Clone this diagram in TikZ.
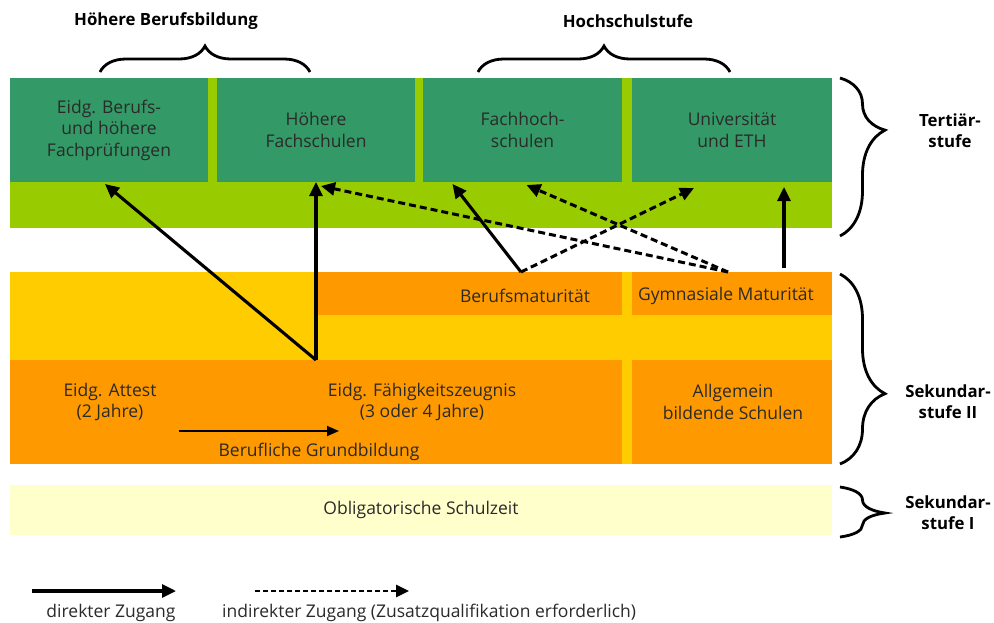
\documentclass[tikz,border=0pt]{standalone}
\usepackage{fontspec}
\setmainfont{Open Sans}
\usetikzlibrary{arrows.meta,decorations.pathreplacing,calc}
\definecolor{dgreen}{HTML}{339966}
\definecolor{lime}{HTML}{99CC00}
\definecolor{ylw}{HTML}{FFCC00}
\definecolor{orng}{HTML}{FF9900}
\definecolor{pale}{HTML}{FFFFCC}
\definecolor{txt}{HTML}{2A2A2A}
\begin{document}
\begin{tikzpicture}[x=1pt,y=-1pt,
  area/.style={rectangle, inner sep=0pt, outer sep=0pt, anchor=north west, draw=none},
  lbl/.style={text=txt, align=center, inner sep=0pt, font=\fontsize{17.5}{21.5}\selectfont},
  hdr/.style={text=black, align=center, inner sep=0pt, font=\bfseries\fontsize{16.8}{21}\selectfont},
  direct/.style={line width=3.1pt, -{Triangle[length=14pt,width=13pt]}},
  indirect/.style={line width=3pt, dash pattern=on 7pt off 4pt, -{Triangle[length=14pt,width=13pt]}},
  brc/.style={decorate, line width=2.8pt}]
\useasboundingbox (0,0) rectangle (994,622);
\fill[white] (0,0) rectangle (994,622);

% Tertiary
\node[area, fill=lime, minimum width=822pt, minimum height=150pt] (tband) at (10,78) {};
\node[area, fill=dgreen, minimum width=198pt, minimum height=104pt] (b1) at (10,78) {};
\node[area, fill=dgreen, minimum width=198pt, minimum height=104pt] (b2) at (217,78) {};
\node[area, fill=dgreen, minimum width=199pt, minimum height=104pt] (b3) at (423,78) {};
\node[area, fill=dgreen, minimum width=200pt, minimum height=104pt] (b4) at (632,78) {};
\node[lbl] (t1) at (b1.center) {Eidg. Berufs-\\und höhere\\Fachprüfungen};
\node[lbl] (t2) at (b2.center) {Höhere\\Fachschulen};
\node[lbl] (t3) at (b3.center) {Fachhoch-\\schulen};
\node[lbl] (t4) at (b4.center) {Universität\\und ETH};

% Secondary II
\node[area, fill=ylw, minimum width=822pt, minimum height=192pt] (sek2) at (10,272) {};
\node[area, fill=orng, minimum width=304pt, minimum height=43pt] (bm) at (318,272) {};
\node[area, fill=orng, minimum width=200pt, minimum height=43pt] (gm) at (632,272) {};
\node[area, fill=orng, minimum width=612pt, minimum height=104pt] (efz) at (10,360) {};
\node[area, fill=orng, minimum width=200pt, minimum height=104pt] (abs) at (632,360) {};
\node[lbl] (tbm) at (525,296) {Berufsmaturität};
\node[lbl] (tgm) at (726,296) {Gymnasiale Maturität};
\node[lbl] (tat) at (110,402) {Eidg. Attest\\(2 Jahre)};
\node[lbl] (tefz) at (422,402) {Eidg. Fähigkeitszeugnis\\(3 oder 4 Jahre)};
\node[lbl] (tabs) at (733,402) {Allgemein\\bildende Schulen};
\node[lbl] (tbg) at (319,452) {Berufliche Grundbildung};
\coordinate (gbs) at (179,431);
\coordinate (gbe) at (339,431);
\draw[line width=1.8pt, -{Triangle[length=12pt,width=10pt]}] (gbs) -- (gbe);

% Secondary I
\node[area, fill=pale, minimum width=822pt, minimum height=50pt] (obl) at (10,485) {};
\node[lbl] (tobl) at (obl.center) {Obligatorische Schulzeit};

% Headers
\node[hdr] (hb) at (166,21) {Höhere Berufsbildung};
\node[hdr] (hs) at (628,21) {Hochschulstufe};
\node[hdr] (ht) at (950,131) {Tertiär-\\stufe};
\node[hdr] (hs2) at (948,402) {Sekundar-\\stufe II};
\node[hdr] (hs1) at (948,513) {Sekundar-\\stufe I};

% Braces
\draw[brc, decoration={brace, amplitude=26pt}] (100,72) -- (310,72);
\draw[brc, decoration={brace, amplitude=26pt}] (478,72) -- (730,72);
\draw[brc, decoration={brace, amplitude=45pt, aspect=0.33}] (840,78) -- (840,236);
\draw[brc, decoration={brace, amplitude=45pt, aspect=0.63}] (840,274) -- (840,464);
\draw[brc, decoration={brace, amplitude=45pt, aspect=0.52}] (840,487) -- (840,537);

% Access arrows
\draw[direct] (efz.north) -- ([xshift=-4pt,yshift=-2pt]b1.south);
\draw[direct] (efz.north) -- (b2.south);
\draw[direct] ([xshift=51pt]bm.north) -- ([xshift=-70pt,yshift=-2pt]b3.south);
\draw[indirect] ([xshift=51pt]bm.north) -- ([xshift=-38pt,yshift=-6pt]b4.south);
\draw[indirect] ([xshift=-4pt]gm.north) -- ([xshift=5pt,yshift=-4pt]b2.south);
\draw[indirect] ([xshift=-4pt]gm.north) -- ([xshift=4pt,yshift=-3pt]b3.south);
\draw[direct] ([xshift=52pt,yshift=4pt]gm.north) -- ([xshift=52pt,yshift=-5pt]b4.south);

% Legend
\coordinate (l1s) at (32,591);
\coordinate (l1e) at (176,591);
\coordinate (l2s) at (255,591);
\coordinate (l2e) at (409,591);
\draw[direct] (l1s) -- (l1e);
\draw[line width=2.6pt, dash pattern=on 5pt off 3pt, -{Triangle[length=13pt,width=12pt]}] (l2s) -- (l2e);
\node[lbl] (lg1) at (111,613) {direkter Zugang};
\node[lbl, anchor=west] (lg2) at (222,613) {indirekter Zugang (Zusatzqualifikation erforderlich)};
\end{tikzpicture}
\end{document}
